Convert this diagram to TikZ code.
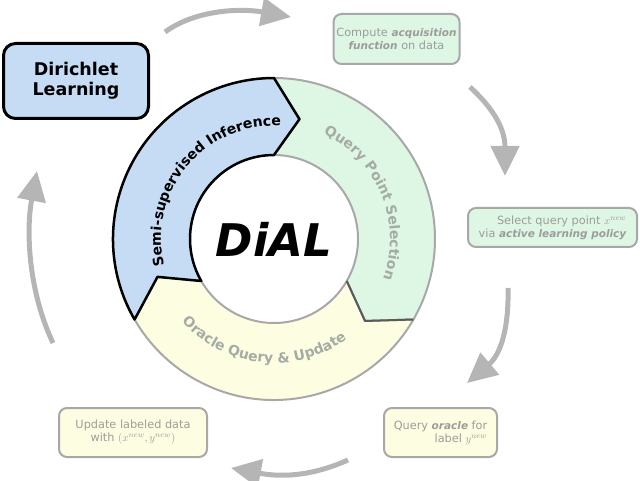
\documentclass[tikz,border=0pt]{standalone}
\usepackage{fontspec}
\setmainfont{DejaVu Sans}
\usetikzlibrary{arrows.meta,decorations.text}
\definecolor{bluefill}{HTML}{C6DCF5}
\definecolor{greenfill}{HTML}{DEF6E4}
\definecolor{yellowfill}{HTML}{FDFDE1}
\definecolor{ringgray}{HTML}{A8A8A8}
\definecolor{txtgray}{HTML}{9C9C9C}
\definecolor{segtxt}{HTML}{A4ACA4}
\definecolor{arrowgray}{HTML}{B5B5B5}
\definecolor{darkedge}{HTML}{5A5A5A}
\newcommand{\embi}[1]{{\fontsize{10.5}{12.5}\selectfont\bfseries\itshape #1}}
\begin{document}
\begin{tikzpicture}[x=1pt,y=1pt,
  flow/.style={line width=5pt, draw=arrowgray, -{Triangle[length=30pt,width=28pt]}},
  infobox/.style={draw=ringgray, line width=2pt, rounded corners=8pt, text=txtgray,
    font=\fontsize{11.3}{13}\selectfont, inner sep=0pt},
  segring/.style={draw=ringgray, line width=2pt, line join=round},
]
\useasboundingbox (0,0) rectangle (640,480);
% boxes
\node[draw=black, line width=3pt, rounded corners=12pt, fill=bluefill, minimum width=145pt,
  minimum height=75pt, align=center, font=\fontsize{17.5}{21}\selectfont\bfseries] (dl) at (76,399) {\raisebox{-3pt}{\begin{tabular}{@{}c@{}}Dirichlet\\[-1pt]Learning\end{tabular}}};
\node[infobox, fill=greenfill, minimum width=126pt, minimum height=50pt, align=center] (comp) at (396.5,441)
  {Compute \embi{acquisition}\\\embi{function} on data};
\node[infobox, fill=greenfill, minimum width=169pt, minimum height=39pt, align=right] (sel) at (552.5,252.5)
  {Select query point $x^{new}$\\via \embi{active learning policy}};
\node[infobox, fill=yellowfill, minimum width=113pt, minimum height=49pt, align=right] (orac) at (440.5,47.5)
  {Query \embi{oracle} for\\label $y^{new}$};
\node[infobox, fill=yellowfill, minimum width=148pt, minimum height=49pt, align=center] (upd) at (133,47.5)
  {Update labeled data\\with $(x^{new},y^{new})$};
% ring
\begin{scope}[shift={(274,241)}]
  \def\ro{161}\def\ri{84}\def\rm{122.5}
  \path[segring, fill=greenfill] (90:\ro) arc[start angle=90, end angle=-30, radius=\ro]
     -- (-42:\rm) -- (-30:\ri) arc[start angle=-30, end angle=90, radius=\ri] -- (78:\rm) -- cycle;
  \path[segring, fill=yellowfill] (-30:\ro) arc[start angle=-30, end angle=-150, radius=\ro]
     -- (198:\rm) -- (210:\ri) arc[start angle=210, end angle=330, radius=\ri] -- (-42:\rm) -- cycle;
  \draw[darkedge, line width=2pt, line join=round] (-30:\ri) -- (-42:\rm) -- (-30:\ro);
  \path[draw=black, line width=2.5pt, line join=round, fill=bluefill] (210:\ro) arc[start angle=210, end angle=90, radius=\ro]
     -- (78:\rm) -- (90:\ri) arc[start angle=90, end angle=210, radius=\ri] -- (198:\rm) -- cycle;
  \path[decorate, decoration={text along path, text align=center,
     text={|\fontsize{14}{14}\selectfont\bfseries|Semi-supervised Inference}}]
     (200:113) arc[start angle=200, end angle=80, radius=113];
  \path[decorate, decoration={text along path, text align=center,
     text={|\fontsize{14}{14}\selectfont\bfseries\color{segtxt}|Query Point Selection}}]
     (70:116) arc[start angle=70, end angle=-25, radius=116];
  \path[decorate, decoration={text along path, text align=center,
     text={|\fontsize{14}{14}\selectfont\bfseries\color{segtxt}|Oracle Query {\&} Update}}]
     (215:124) arc[start angle=215, end angle=313, radius=124];
  \node[font=\fontsize{45}{45}\selectfont\bfseries\itshape] (dial) at (0,0) {DiAL};
\end{scope}
% arrows
\coordinate (a1s) at (165,448); \coordinate (a1e) at (291,463);
\coordinate (a2s) at (470,393); \coordinate (a2e) at (505,304);
\coordinate (a3s) at (508,192); \coordinate (a3e) at (467,97);
\coordinate (a4s) at (348,20);  \coordinate (a4e) at (231,12);
\coordinate (a5s) at (53,137);  \coordinate (a5e) at (37,309);
\draw[flow] (a1s) .. controls (195,470) and (240,472) .. (a1e);
\draw[flow] (a2s) .. controls (495,370) and (505,350) .. (a2e);
\draw[flow] (a3s) .. controls (509,150) and (500,125) .. (a3e);
\draw[flow] (a4s) .. controls (310,3) and (280,3) .. (a4e);
\draw[flow] (a5s) .. controls (28,190) and (26,250) .. (a5e);
\end{tikzpicture}
\end{document}
